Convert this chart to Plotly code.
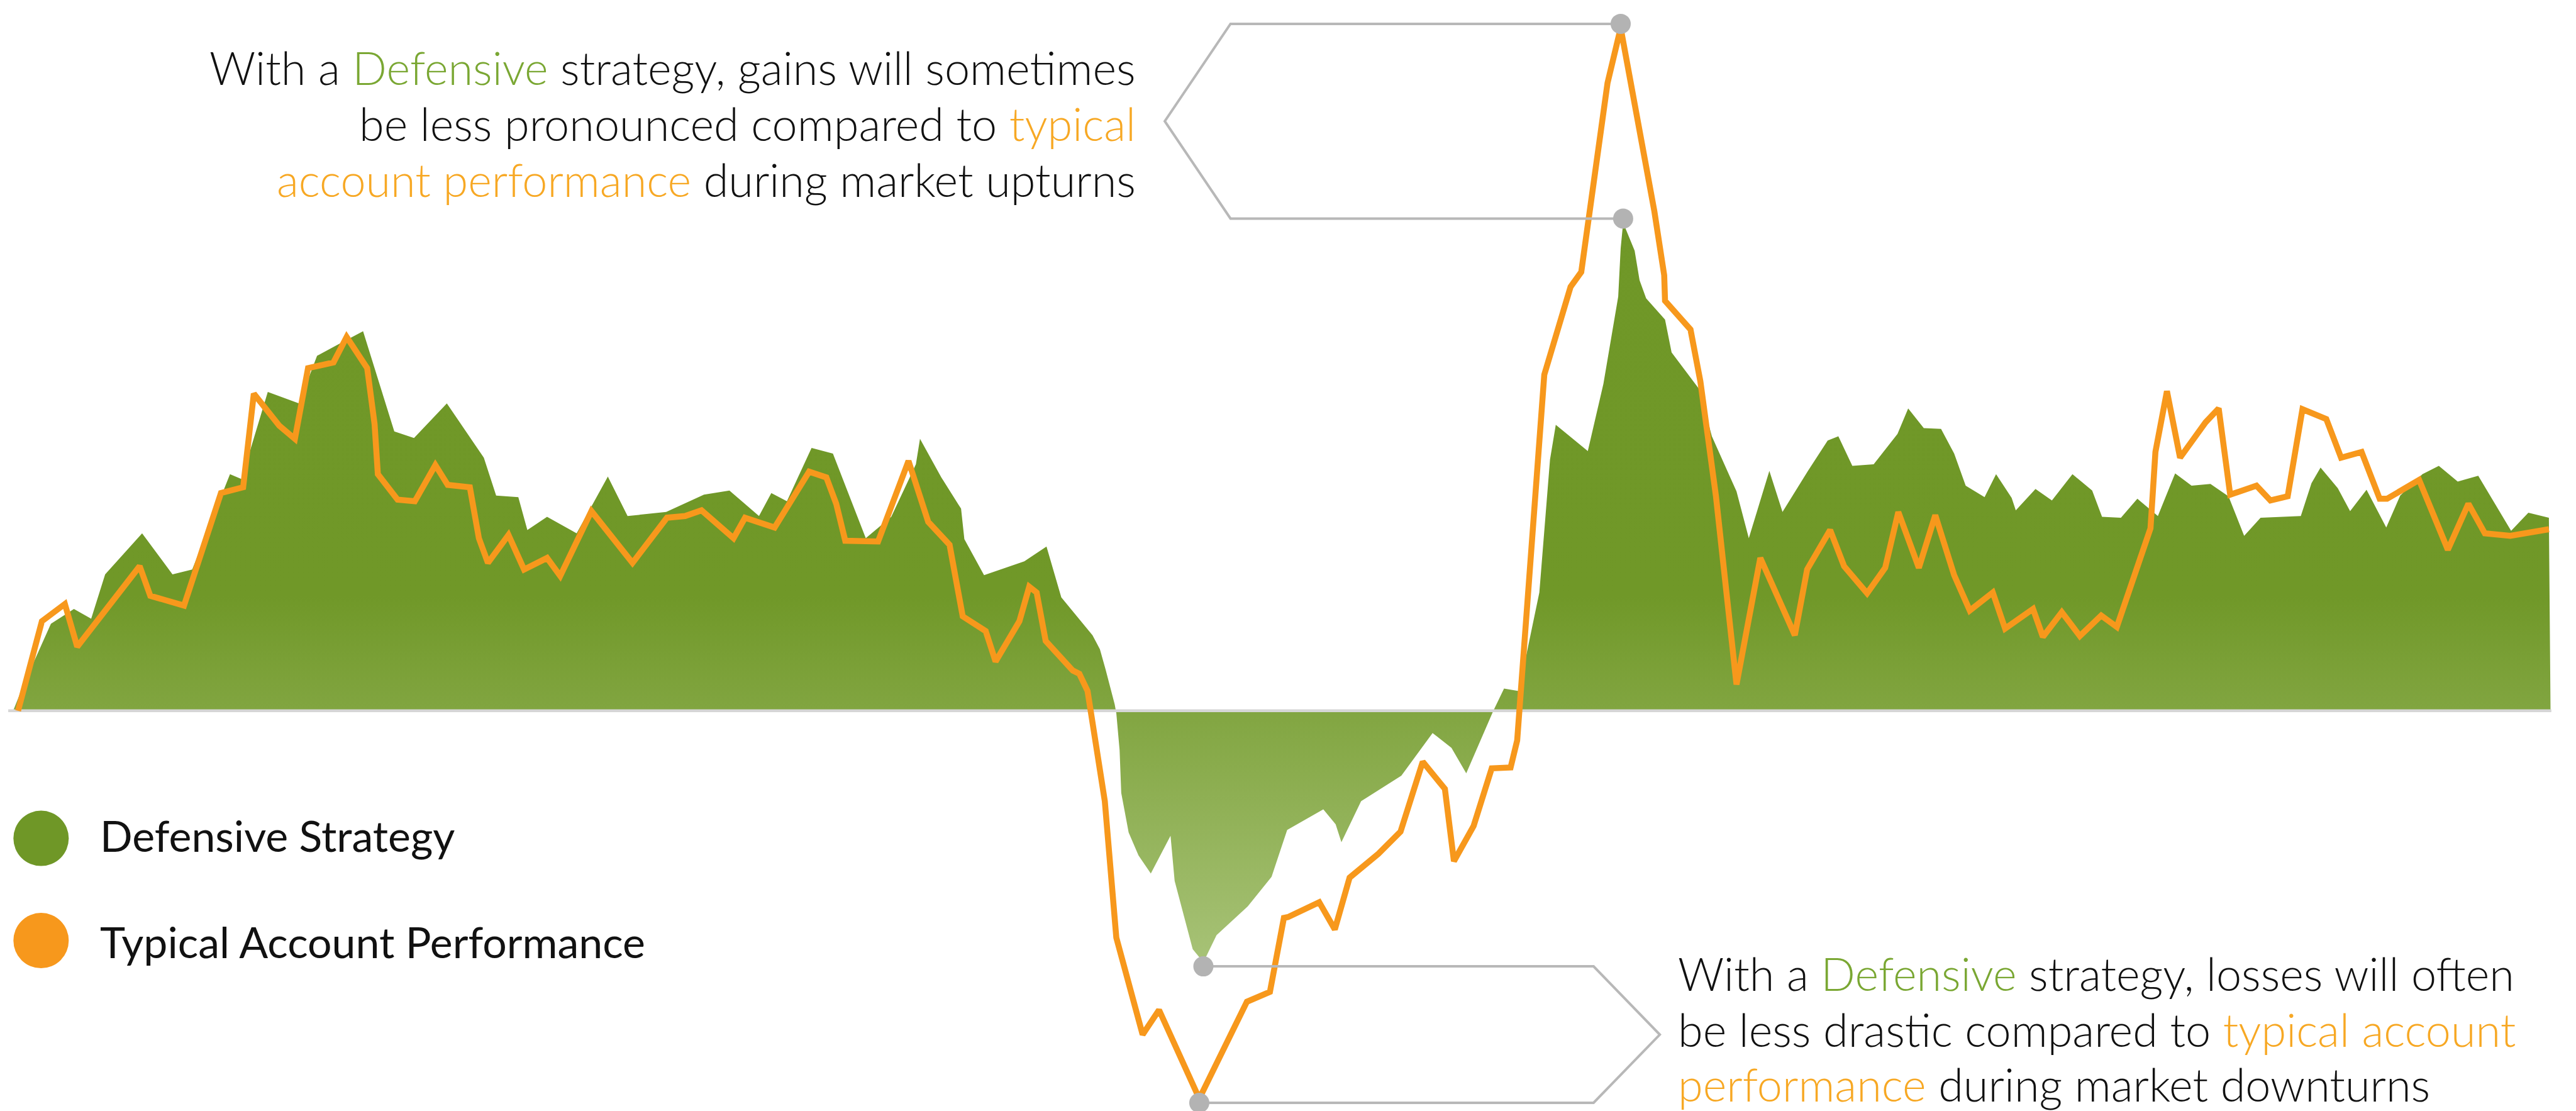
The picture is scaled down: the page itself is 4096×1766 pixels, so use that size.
import plotly.graph_objects as go

# ---------------- DATA (time index, performance value) ----------------
defensive_t = [8, 14, 31, 45, 55.5, 64, 86.5, 105, 117, 140, 147, 163, 182, 193, 206, 221,
               240, 252, 272, 294.5, 302, 315.5, 321, 333, 351, 370, 382, 405.5, 428.5, 444,
               462, 469.5, 479, 494, 507, 527, 542.5, 557.5, 560, 573, 585, 587, 599, 623.5,
               637, 646, 665, 669.5, 673, 678.5, 679.5, 681.5, 682.5, 687, 693, 700.5, 712.5,
               715, 726, 732.5, 740.5, 759.5, 774, 783.5, 805.5, 813, 816.5, 828.5, 853, 872,
               883.5, 892.5, 909, 915.5, 924.5, 937, 943.5, 947, 966.5, 976, 985, 986.5, 988,
               995, 998, 1002, 1013.5, 1017.5, 1034.5, 1042, 1057, 1064.5, 1077, 1085, 1100.5,
               1112.5, 1119, 1127.5, 1140.5, 1155, 1161.5, 1171, 1181.5, 1189.5, 1196.5, 1208,
               1215, 1224.5, 1227, 1239, 1249, 1261.5, 1273.5, 1279.5, 1291, 1301, 1313.5, 1324,
               1334, 1345.5, 1356.5, 1366, 1376, 1400.5, 1407, 1412.5, 1423, 1430.5, 1440.5,
               1452.5, 1461, 1474.5, 1484.5, 1496, 1508.5, 1528.5, 1539, 1551.5, 1552.5]
defensive_v = [0, 15, 53, 62, 56, 83, 108, 83, 86, 144, 141, 194, 187, 216, 223, 231,
               170, 166, 187, 154, 131, 130, 110, 118, 108, 142.5, 118.5, 121, 131.5, 134,
               118.5, 132.5, 127.5, 160, 156.5, 105, 118, 150, 165.5, 142, 123, 104.5, 82.5, 91,
               100, 69, 46, 37.5, 25, 4, -1.5, -24, -50, -74, -88, -99, -76,
               -103.5, -145, -153, -136.5, -119, -101, -72.5, -60, -69, -80, -55, -39.5, -13.5,
               -22.5, -38, 0, 13.5, 12, 72, 153, 174, 158, 199, 252, 281.5, 297,
               280, 262, 251, 238, 218, 195.5, 167, 133.5, 105, 146, 121, 146,
               164.5, 167, 149, 150, 168.5, 184, 172, 171.5, 156.5, 137, 130,
               144, 129.5, 122, 135, 128, 144, 134, 118, 117.5, 129, 118.5, 144.5,
               137, 138, 130.5, 106.5, 117.5, 118.5, 138.5, 148, 135.5, 121.5, 134.5,
               111.5, 131, 144, 149, 139.5, 143, 109.5, 120.5, 117.5, 0]

typical_t = [11, 25.5, 39.5, 47, 85, 91.5, 112, 134.5, 148, 154.5, 170, 179.5, 187.5, 203,
             211, 223.5, 228, 230, 242, 252.5, 265, 272.5, 286, 291.5, 297, 309.5, 319, 333,
             341, 360, 385, 406, 417, 427, 446.5, 453.5, 471.5, 492.5, 503, 509, 514.5, 534.5,
             553, 565, 578, 586, 600, 606, 620.5, 626.5, 631, 636.5, 653, 657, 662, 664,
             672.5, 679.5, 695.5, 705.5, 730, 759, 773, 781.5, 784, 803, 812.5, 821.5, 839,
             852.5, 866, 879.5, 885, 897, 908, 919.5, 923.5, 940, 956, 962.5, 978.5, 986.5,
             1007, 1013, 1013.5, 1029, 1035, 1044.5, 1057, 1071.5, 1080.5, 1092.5, 1100, 1114,
             1122.5, 1136.5, 1147.5, 1155.5, 1168, 1178, 1189.5, 1199, 1213, 1220.5, 1237.5,
             1243.5, 1255, 1266, 1279, 1288.5, 1309, 1312, 1319, 1327, 1342.5, 1350.5, 1357.5,
             1373.5, 1382, 1392.5, 1401.5, 1416, 1425, 1437.5, 1448.5, 1453, 1472.5, 1490,
             1502.5, 1512.5, 1528, 1551.5]
typical_v = [0, 54.5, 65, 39, 88, 70, 64, 132.5, 136, 193, 173.5, 165.5, 208.5, 212,
             227.5, 208.5, 174.5, 144, 128.5, 127.5, 149.5, 137.5, 136, 105, 90, 107, 86, 93,
             82, 121.5, 90, 117.5, 118.5, 122, 105, 117.5, 111.5, 145.5, 142, 126, 103.5, 103,
             152, 115, 101, 57.5, 48.5, 30, 54.5, 75.5, 72, 42.5, 24.5, 22.5, 12, -0.5,
             -55, -138, -197, -182, -236, -177, -171, -126, -125.5, -116.5, -133, -101.5, -87,
             -73.5, -31, -47.5, -91.5, -70, -35, -34.5, -18, 204.5, 258, 267, 382, 415.5,
             304, 265, 249.5, 232, 200.5, 130.5, 16, 93, 72, 46, 86, 110,
             88, 71.5, 87, 121, 87, 119, 82.5, 61, 72, 50, 62,
             45, 60, 45.5, 58, 51, 111, 157.5, 194.5, 154, 175.5, 184, 131.5,
             137, 128, 130.5, 183.5, 177.5, 154, 157.5, 129, 129, 140.5, 98,
             126, 108, 106.5, 110.5]

series_names = ["Defensive Strategy", "Typical Account Performance"]

# ---------------- STYLE / LAYOUT CONSTANTS ----------------
W, H = 4096, 1766
UNIT = 4096 / 1568            # output px per chart unit
PAGE_OFF = 8 / UNIT           # compensate the html body margin
X_RANGE = [PAGE_OFF, 1568 + PAGE_OFF]
Y_RANGE = [-243.5 - PAGE_OFF, 432.5 - PAGE_OFF]
GREEN = "#6f9727"
ORANGE = "#f7981c"
TXT_GREEN = "#7aa733"
TXT_ORANGE = "#f7a824"
GREY = "#b8b8b8"
DOT_GREY = "#b3b3b3"
DOT_GAP = 2.5                 # callout dots sit just beyond the extreme point
FONT = "Lato, 'Open Sans', sans-serif"

fig = go.Figure()

# green area
fig.add_trace(go.Scatter(
    x=defensive_t, y=defensive_v, mode="lines", line=dict(width=0, color=GREEN),
    fill="tozeroy",
    fillgradient=dict(type="vertical", start=-156, stop=432.5,
                      colorscale=[[0, "#a8c378"], [0.384, "#709828"], [1, "#6f9727"]]),
    hoverinfo="skip", showlegend=False))

# zero baseline
fig.add_trace(go.Scatter(x=[5, 1553], y=[0, 0], mode="lines",
                         line=dict(color="#d6d6d6", width=4.5),
                         hoverinfo="skip", showlegend=False))

# orange line
fig.add_trace(go.Scatter(x=typical_t, y=typical_v, mode="lines",
                         line=dict(color=ORANGE, width=9.5),
                         hoverinfo="skip", showlegend=False))

# callouts derived from extremes
def extreme(ts, vs, fn, gap):
    i = vs.index(fn(vs))
    return ts[i], vs[i] + gap

o_max = extreme(typical_t, typical_v, max, DOT_GAP)
g_max = extreme(defensive_t, defensive_v, max, DOT_GAP)
o_min = extreme(typical_t, typical_v, min, -DOT_GAP)
g_min = extreme(defensive_t, defensive_v, min, -DOT_GAP)

# top callout (bracket pointing left)
top_inner, top_tip = 749, 709
fig.add_trace(go.Scatter(
    x=[o_max[0], top_inner, top_tip, top_inner, g_max[0]],
    y=[o_max[1], o_max[1], (o_max[1] + g_max[1]) / 2, g_max[1], g_max[1]],
    mode="lines", line=dict(color=GREY, width=4), hoverinfo="skip", showlegend=False))
# bottom callout (bracket pointing right)
bot_inner, bot_tip = 970, 1010.3
fig.add_trace(go.Scatter(
    x=[g_min[0], bot_inner, bot_tip, bot_inner, o_min[0]],
    y=[g_min[1], g_min[1], (g_min[1] + o_min[1]) / 2, o_min[1], o_min[1]],
    mode="lines", line=dict(color=GREY, width=4), hoverinfo="skip", showlegend=False))

fig.add_trace(go.Scatter(
    x=[o_max[0], g_max[0], g_min[0], o_min[0]],
    y=[o_max[1], g_max[1], g_min[1], o_min[1]],
    mode="markers", marker=dict(color=DOT_GREY, size=32, line=dict(width=0)),
    hoverinfo="skip", showlegend=False))

# custom legend
legend_x = 25
legend_y = [-77.6, -139.8]
fig.add_trace(go.Scatter(x=[legend_x, legend_x], y=legend_y, mode="markers",
                         marker=dict(color=[GREEN, ORANGE], size=88, line=dict(width=0)),
                         hoverinfo="skip", showlegend=False))

annotations = []
for name, yv in zip(series_names, [-75.5, -140.4]):
    annotations.append(dict(x=60, y=yv, xref="x", yref="y", text=name, showarrow=False,
                            xanchor="left", yanchor="middle",
                            font=dict(family=FONT, size=68, color="#111111", weight=400)))

g = lambda s: f"<span style='color:{TXT_GREEN}'>{s}</span>"
o = lambda s: f"<span style='color:{TXT_ORANGE}'>{s}</span>"
top_lines = [f"With a {g('Defensive')} strategy, gains will sometimes",
             f"be less pronounced compared to {o('typical')}",
             f"{o('account performance')} during market upturns"]
bot_lines = [f"With a {g('Defensive')} strategy, losses will often",
             f"be less drastic compared to {o('typical account')}",
             f"{o('performance')} during market downturns"]
top_y = [391.5, 357.3, 323.3]
bot_y = [-159.7, -193.6, -227.1]
for txt, yv in zip(top_lines, top_y):
    annotations.append(dict(x=692, y=yv, xref="x", yref="y", text=txt, showarrow=False,
                            xanchor="right", yanchor="middle",
                            font=dict(family=FONT, size=72, color="#111111", weight=300)))
for txt, yv in zip(bot_lines, bot_y):
    annotations.append(dict(x=1020.5, y=yv, xref="x", yref="y", text=txt, showarrow=False,
                            xanchor="left", yanchor="middle",
                            font=dict(family=FONT, size=72, color="#111111", weight=300)))

fig.update_layout(
    width=W, height=H, margin=dict(l=0, r=0, t=0, b=0),
    paper_bgcolor="white", plot_bgcolor="white",
    xaxis=dict(range=X_RANGE, visible=False, fixedrange=True),
    yaxis=dict(range=Y_RANGE, visible=False, fixedrange=True),
    annotations=annotations, hovermode=False, showlegend=False)

fig.write_html("out.html", config={"displayModeBar": False})
